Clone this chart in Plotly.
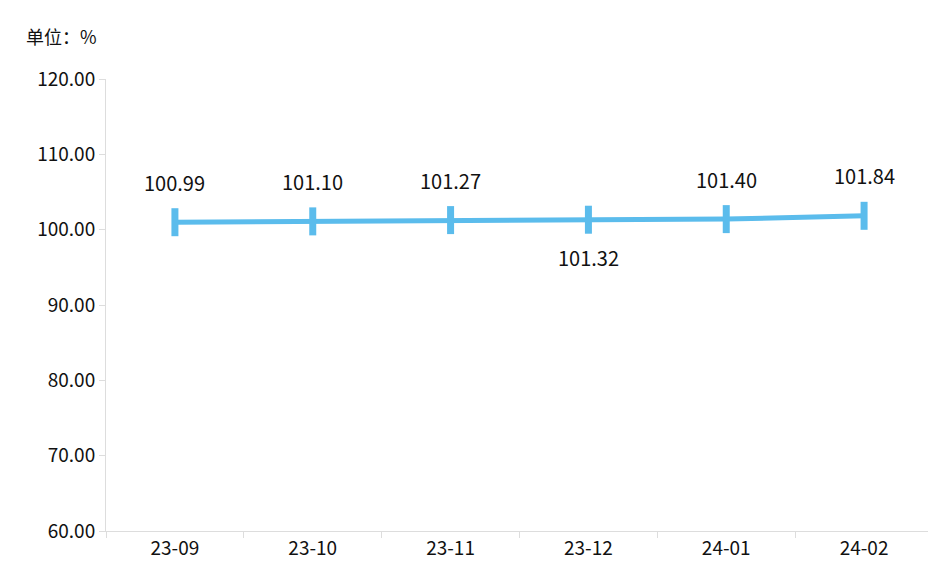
import plotly.graph_objects as go

categories = ["23-09", "23-10", "23-11", "23-12", "24-01", "24-02"]
values = [100.99, 101.10, 101.27, 101.32, 101.40, 101.84]
label_above = [True, True, True, False, True, True]
yticks = [60, 70, 80, 90, 100, 110, 120]

fig = go.Figure(go.Scatter(
    x=categories, y=values, mode="lines+markers",
    line=dict(color="#5bbcec", width=5),
    marker=dict(symbol="line-ns", size=20, line=dict(color="#5bbcec", width=7)),
    cliponaxis=False,
))
ann = [dict(text="单位：%", xref="paper", yref="paper", x=0, y=1, xshift=-82, yshift=28,
            xanchor="left", yanchor="bottom", showarrow=False, font=dict(size=18))]
for c, v, up in zip(categories, values, label_above):
    ann.append(dict(x=c, y=v, text=f"{v:.2f}", showarrow=False, yshift=40 if up else -38,
                    font=dict(size=20)))
fig.update_layout(
    width=936, height=569, plot_bgcolor="white", paper_bgcolor="white",
    margin=dict(l=98, r=11, t=71, b=46, autoexpand=False), showlegend=False,
    font=dict(family="Noto Sans CJK SC", size=19, color="#111"),
    annotations=ann,
)
fig.update_xaxes(type="category", range=[-0.5, 5.5], tickson="boundaries", ticks="outside",
                 ticklen=6, tickcolor="#ddd", showline=True, linecolor="#ddd", showgrid=False,
                 automargin=False)
fig.update_yaxes(range=[60, 120], tickvals=yticks, tickformat=".2f", showgrid=False,
                 showline=True, linecolor="#ddd", ticks="outside", tickcolor="#ddd", ticklen=6,
                 zeroline=False, automargin=False)
fig.write_html("out.html")
